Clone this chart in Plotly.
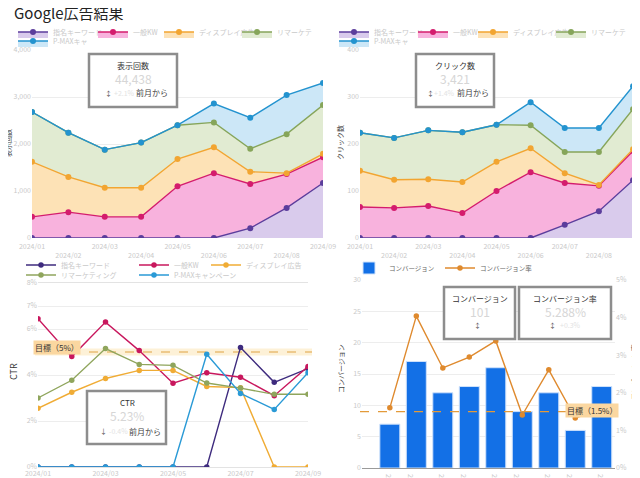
import plotly.graph_objects as go

# The page body adds an 8px margin, so the figure is sized and mapped to compensate.
OFF = 8
W, H = 632, 470


def px(x):
    return (x - OFF) / W


def py(y):
    return 1 - (y - OFF) / H


# ---------------- data ----------------
months = ["2024/01", "2024/02", "2024/03", "2024/04", "2024/05",
          "2024/06", "2024/07", "2024/08", "2024/09"]
idx = list(range(len(months)))
stagger = [m if i % 2 == 0 else "<br>" + m for i, m in enumerate(months)]

campaigns = ["指名キーワード", "一般KW", "ディスプレイ広告", "リマーケティング", "P-MAXキャンペーン"]

# impressions (stacked)
imp_purple = [0, 0, 0, 0, 0, 0, 210, 640, 1170]
imp_pink = [450, 550, 450, 450, 1100, 1380, 940, 720, 550]
imp_orange = [1170, 750, 620, 620, 580, 550, 260, 20, 70]
imp_green = [1060, 940, 810, 960, 720, 530, 490, 830, 1040]
imp_blue = [0, 0, 0, 0, 0, 400, 660, 830, 470]

# clicks (stacked)
clk_purple = [0, 0, 0, 0, 0, 0, 28, 57, 123]
clk_pink = [66, 64, 68, 53, 100, 140, 89, 54, 62]
clk_orange = [77, 60, 57, 66, 62, 51, 21, 2, 4]
clk_green = [81, 89, 104, 106, 79, 49, 45, 70, 85]
clk_blue = [0, 0, 0, 0, 0, 49, 51, 51, 49]

# CTR (%)
ctr_purple = [0, 0, 0, 0, 0, 0, 5.2, 3.68, 4.28]
ctr_pink = [6.45, 4.8, 6.3, 5.06, 3.64, 4.1, 3.9, 3.1, 4.37]
ctr_orange = [2.55, 3.25, 3.85, 4.2, 4.2, 3.5, 3.45, 0, 0]
ctr_green = [3.0, 3.77, 5.15, 4.46, 4.42, 3.65, 3.43, 3.16, 3.16]
ctr_blue = [0, 0, 0, 0, 0, 4.9, 3.2, 2.5, 4.1]
ctr_target = 5

# conversions
conversions = [7, 17, 12, 13, 16, 9, 12, 6, 13]
conv_rate = [1.6, 4.04, 2.66, 2.95, 3.38, 1.41, 2.61, 1.33, 1.55]
conv_target = 1.5

imp_ticks = [0, 1000, 2000, 3000, 4000]
clk_ticks = [0, 100, 200, 300, 400]
ctr_ticks = [0, 2, 4, 6, 7, 8]
conv_ticks = [0, 5, 10, 15, 20, 25, 30]
rate_ticks = [0, 1, 2, 3, 4, 5]

# ---------------- style ----------------
line_cols = ["#5b3d9c", "#d41c6d", "#f2a531", "#86a55a", "#2393cf"]
fill_cols = ["#d9cbec", "#f8b2dd", "#fde2b6", "#e1ebd2", "#cce7f7"]
ctr_cols = ["#3e2b7e", "#c8175d", "#f0ac35", "#8fa55c", "#2a9ad6"]
BLUR = "#c9c9c9"
FONT = "Noto Sans CJK JP"

fig = go.Figure()

tl_lw = [35, 21, 33, 30, 30]
tr_lw = [34, 15, 33, 30, 30]
for i, vals in enumerate([imp_purple, imp_pink, imp_orange, imp_green, imp_blue]):
    fig.add_trace(go.Scatter(
        x=idx, y=vals, name=campaigns[i], mode="lines+markers", stackgroup="imp",
        line=dict(color=line_cols[i], width=1.4), marker=dict(color=line_cols[i], size=6),
        fillcolor=fill_cols[i], xaxis="x", yaxis="y",
        legend="legend" if i < 4 else "legend2", legendwidth=tl_lw[i]))

for i, vals in enumerate([clk_purple, clk_pink, clk_orange, clk_green, clk_blue]):
    fig.add_trace(go.Scatter(
        x=idx, y=vals, name=campaigns[i], mode="lines+markers", stackgroup="clk",
        line=dict(color=line_cols[i], width=1.4), marker=dict(color=line_cols[i], size=6),
        fillcolor=fill_cols[i], xaxis="x2", yaxis="y2",
        legend="legend3" if i < 4 else "legend4", legendwidth=tr_lw[i]))

bl_lw = [68, 27, 60, 68, 60]
for i, vals in enumerate([ctr_purple, ctr_pink, ctr_orange, ctr_green, ctr_blue]):
    fig.add_trace(go.Scatter(
        x=idx, y=vals, name=campaigns[i], mode="lines+markers",
        line=dict(color=ctr_cols[i], width=1.4), marker=dict(color=ctr_cols[i], size=5.5),
        xaxis="x3", yaxis="y3",
        legend="legend5" if i < 3 else "legend6", legendwidth=bl_lw[i]))

fig.add_trace(go.Bar(
    x=idx, y=conversions, name="コンバージョン",
    marker=dict(color="#1370e6", line=dict(color="#cfe2fb", width=1)),
    xaxis="x4", yaxis="y4", legend="legend7", legendwidth=46))
fig.add_trace(go.Scatter(
    x=idx, y=conv_rate, name="コンバージョン率", mode="lines+markers",
    line=dict(color="#df8a2e", width=1.4), marker=dict(color="#df8a2e", size=5.5),
    xaxis="x4", yaxis="y5", legend="legend7"))

# ---------------- axes ----------------
tickfont = dict(size=7, color=BLUR)
grid = "#ededed"


def xax(dom, rng, anchor, **kw):
    d = dict(domain=dom, range=rng, anchor=anchor, tickvals=idx, ticktext=stagger,
             tickfont=tickfont, showgrid=False, zeroline=False, ticks="", fixedrange=True)
    d.update(kw)
    return d


def yax(dom, rng, anchor, tv, tt, **kw):
    d = dict(domain=dom, range=rng, anchor=anchor, tickvals=tv, ticktext=tt, tickfont=tickfont,
             gridcolor=grid, zeroline=False, ticks="", showline=False)
    d.update(kw)
    return d


fig.update_layout(
    xaxis=xax([px(32), px(323)], [0, 8], "y", ticklabelstandoff=3),
    yaxis=yax([py(238), py(50)], [0, 4000], "x", imp_ticks, [f"{v:,}" for v in imp_ticks]),
    xaxis2=xax([px(360), px(633)], [0, 8], "y2", ticklabelstandoff=3),
    yaxis2=yax([py(238), py(50)], [0, 400], "x2", clk_ticks, [str(v) for v in clk_ticks]),
    xaxis3=xax([px(38), px(308)], [0, 8], "y3", showline=True, linecolor="#e3e3e3", mirror=True),
    yaxis3=yax([py(467), py(283)], [0, 8], "x3", ctr_ticks, [f"{v}%" for v in ctr_ticks]),
    xaxis4=xax([px(362), px(615)], [-1.05, 8.5], "y4", showline=True, linecolor="#9a9a9a", linewidth=1),
    yaxis4=yax([py(468), py(280)], [0, 30], "x4", conv_ticks, [str(v) for v in conv_ticks]),
    yaxis5=dict(overlaying="y4", side="right", anchor="x4", range=[0, 5], tickvals=rate_ticks,
                ticktext=[f"{v}%" for v in rate_ticks], tickfont=tickfont, showgrid=False,
                zeroline=False, ticks=""),
    bargap=0.245,
)


# ---------------- legends ----------------
def leg(x, y, color=BLUR, size=7):
    return dict(orientation="h", x=px(x), y=py(y), xanchor="left", yanchor="middle",
                bgcolor="rgba(0,0,0,0)", font=dict(size=size, color=color), itemwidth=30,
                tracegroupgap=0, traceorder="normal")


fig.update_layout(
    legend=leg(13, 32), legend2=leg(13, 41),
    legend3=leg(334, 32), legend4=leg(334, 41),
    legend5=leg(21, 265), legend6=leg(21, 275),
    legend7=leg(349, 268, "#666", 6.5),
)

# ---------------- shapes & annotations ----------------
shapes = []
ann = []


def text(x, y, s, size=8, color="#333", anchor="center", angle=0, **kw):
    d = dict(x=px(x), y=py(y), xref="paper", yref="paper", text=s, showarrow=False,
             xanchor=anchor, yanchor="middle", textangle=angle,
             font=dict(size=size, color=color, family=FONT))
    d.update(kw)
    ann.append(d)


text(12, 13, "Google広告結果", size=15, color="#222", anchor="left")

# axis titles
text(8, 143, "表示回数", size=7, color="#444", angle=-90)
text(340, 143, "クリック数", size=7, color="#444", angle=-90)
text(13, 372, "CTR", size=9, color="#333", angle=-90)
text(341, 369, "コンバージョン", size=7, color="#444", angle=-90)
text(634, 372, "コンバージョン率", size=7, color="#444", angle=-90)

# target lines
shapes.append(dict(type="line", xref="paper", yref="y3", x0=px(35), x1=px(312), y0=ctr_target,
                   y1=ctr_target, line=dict(color="rgba(250,215,140,0.35)", width=7), layer="below"))
shapes.append(dict(type="line", xref="paper", yref="y3", x0=px(35), x1=px(312), y0=ctr_target,
                   y1=ctr_target, line=dict(color="#e0a444", width=1.2, dash="dash"), layer="below"))
shapes.append(dict(type="line", xref="paper", yref="y5", x0=px(360), x1=px(615), y0=conv_target,
                   y1=conv_target, line=dict(color="#e39a3a", width=1.2, dash="dash")))
text(57, 347, "目標（5%）", size=8, color="#333", bgcolor="#fbd7a0", borderpad=1)
text(592, 410, "目標（1.5%）", size=8, color="#333", bgcolor="#fbd7a0", borderpad=1)


# KPI cards
def card(x0, y0, x1, y1):
    shapes.append(dict(type="rect", xref="paper", yref="paper", x0=px(x0), x1=px(x1), y0=py(y1),
                       y1=py(y0), line=dict(color="#8d8d8d", width=2.5), fillcolor="white"))


card(89, 54, 177, 107)
text(133, 65, "表示回数", size=8)
text(133, 79, "44,438", size=12, color="#d6d6d6")
text(108, 93, "↕", size=7, color="#555")
text(124, 93, "+2.1%", size=7, color="#e3e3e3")
text(152, 93, "前月から", size=8, color="#444")

card(416, 54, 494, 107)
text(455, 65, "クリック数", size=8)
text(455, 79, "3,421", size=12, color="#d6d6d6")
text(430, 93, "↕", size=7, color="#555")
text(444, 93, "+1.4%", size=7, color="#e3e3e3")
text(473, 93, "前月から", size=8, color="#444")

card(87, 391, 166, 444)
text(127, 402, "CTR", size=8)
text(127, 415, "5.23%", size=12, color="#d6d6d6")
text(103, 431, "↓", size=7, color="#555")
text(118, 431, "-0.4%", size=7, color="#e3e3e3")
text(145, 431, "前月から", size=8, color="#444")

card(444, 287, 515, 339)
text(480, 298, "コンバージョン", size=8)
text(480, 311, "101", size=12, color="#d6d6d6")
text(477, 325, "↕", size=7, color="#555")

card(519, 287, 611, 339)
text(565, 298, "コンバージョン率", size=8)
text(565, 311, "5.288%", size=12, color="#d6d6d6")
text(552, 325, "↕", size=7, color="#555")
text(570, 325, "+0.3%", size=7, color="#e3e3e3")

fig.update_layout(
    shapes=shapes, annotations=ann,
    width=W, height=H, margin=dict(l=0, r=0, t=0, b=0, autoexpand=False),
    paper_bgcolor="white", plot_bgcolor="white",
    font=dict(family=FONT, size=8, color="#333"),
    showlegend=True,
)

fig.write_html("out.html")
